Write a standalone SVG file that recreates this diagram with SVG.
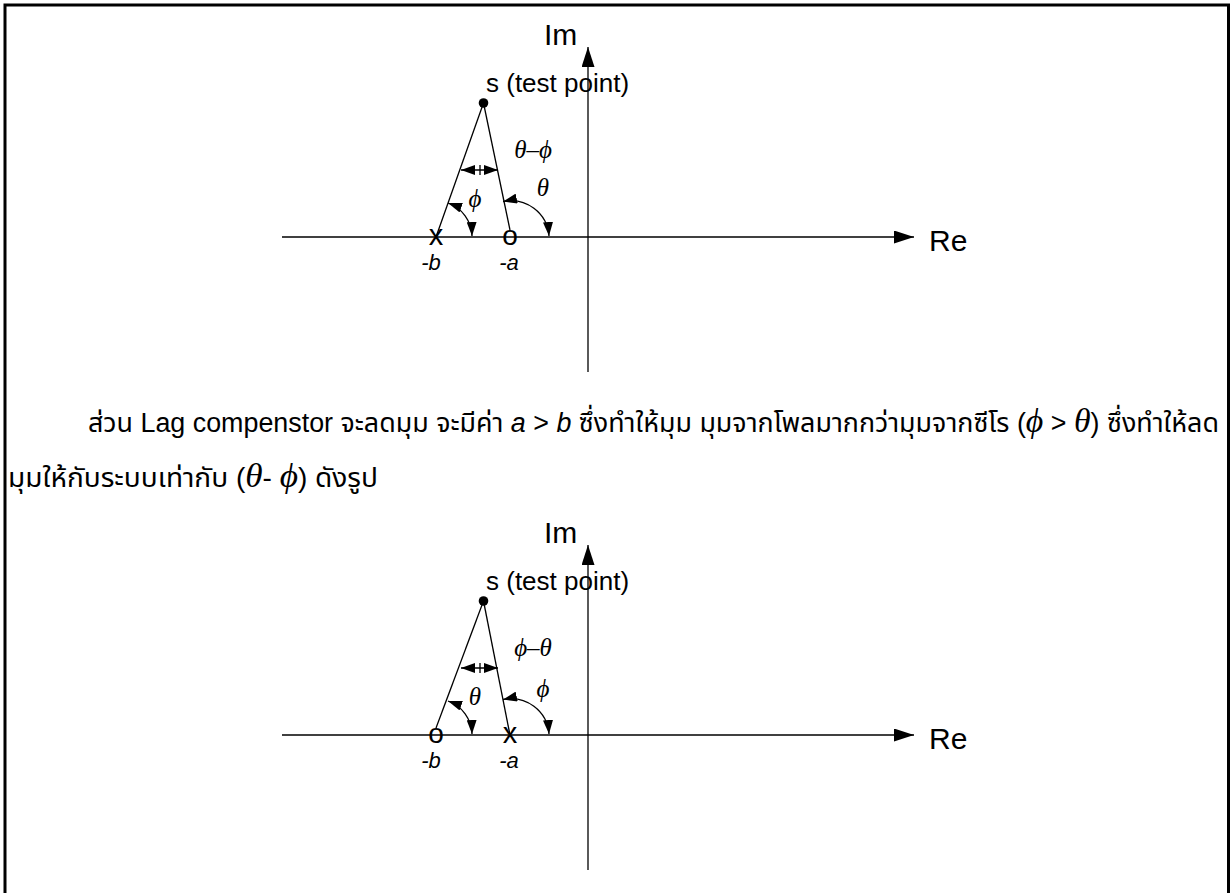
<svg xmlns="http://www.w3.org/2000/svg" width="1230" height="893" viewBox="0 0 1230 893">
<style>
.ln{stroke:#000;stroke-width:1.3;fill:none}
.ax{stroke:#000;stroke-width:1.3;fill:none}
.lab{font-family:'Liberation Sans',Arial,sans-serif;fill:#000}
.gr{font-family:'Liberation Serif','DejaVu Serif',serif;font-style:italic;fill:#000}
.th{font-family:'Liberation Sans','Noto Sans Thai','Noto Sans',sans-serif;font-size:27px;fill:#000}
</style>
<defs>
<marker id="ah" viewBox="0 0 14 10" refX="14" refY="5" markerWidth="14" markerHeight="10" markerUnits="userSpaceOnUse" orient="auto-start-reverse">
<path d="M0,0 L14,5 L0,10 z" fill="#000"/>
</marker>
<marker id="axh" viewBox="0 0 20 13" refX="20" refY="6.5" markerWidth="20" markerHeight="13" markerUnits="userSpaceOnUse" orient="auto">
<path d="M0,0 L20,6.5 L0,13 z" fill="#000"/>
</marker>
</defs>
<rect width="1230" height="893" fill="#fff"/>
<g id="frame"><path d="M5,893 V5 H1228.5 V893" stroke="#000" stroke-width="3" fill="none"/></g>

<!-- Diagram 1 -->
<g id="diagram1">
<g id="connectors1">
<line class="ax" x1="282" y1="237" x2="914" y2="237" marker-end="url(#axh)"/>
<line class="ax" x1="588" y1="372" x2="588" y2="47" marker-end="url(#axh)"/>
<line class="ln" x1="483.5" y1="103" x2="436" y2="237"/>
<line class="ln" x1="483.5" y1="103" x2="510" y2="230"/>
<line class="ln" x1="461" y1="170" x2="498" y2="170" marker-start="url(#ah)" marker-end="url(#ah)"/>
<line class="ln" x1="480" y1="165" x2="480" y2="175"/>
<path class="ln" d="M448,203 A36,36 0 0 1 472,236" marker-start="url(#ah)" marker-end="url(#ah)"/>
<path class="ln" d="M503,201.5 A38,38 0 0 1 549,236" marker-start="url(#ah)" marker-end="url(#ah)"/>
</g>
<g id="s1"><circle cx="483.5" cy="103" r="4.8" fill="#000"/><text class="lab" x="486" y="92" font-size="26">s (test point)</text></g>
<g id="im1"><text class="lab" x="544" y="45" font-size="30">Im</text></g>
<g id="re1"><text class="lab" x="929" y="251" font-size="30">Re</text></g>
<g id="pole1"><text class="lab" x="436" y="245" font-size="29" text-anchor="middle">x</text><text class="lab" x="431" y="270" font-size="22" font-style="italic" text-anchor="middle">-b</text></g>
<g id="zero1"><text class="lab" x="510" y="245" font-size="28" text-anchor="middle">o</text><text class="lab" x="509" y="270" font-size="22" font-style="italic" text-anchor="middle">-a</text></g>
<g id="ang1"><text class="gr" x="533" y="158" font-size="25" text-anchor="middle">θ–ϕ</text>
<text class="gr" x="475" y="207" font-size="25" text-anchor="middle">ϕ</text>
<text class="gr" x="543" y="196" font-size="25" text-anchor="middle">θ</text></g>
</g>

<!-- Text -->
<g id="para">
<text class="th" x="88" y="432" textLength="1131" lengthAdjust="spacingAndGlyphs">ส่วน Lag compenstor จะลดมุม จะมีค่า <tspan font-style="italic">a</tspan> &gt; <tspan font-style="italic">b</tspan> ซึ่งทำให้มุม มุมจากโพลมากกว่ามุมจากซีโร (<tspan class="gr" font-size="34">ϕ</tspan> &gt; <tspan class="gr" font-size="34">θ</tspan>) ซึ่งทำให้ลด</text>
<text class="th" x="8" y="487" textLength="370" lengthAdjust="spacingAndGlyphs">มุมให้กับระบบเท่ากับ (<tspan class="gr" font-size="34">θ</tspan>- <tspan class="gr" font-size="34">ϕ</tspan>) ดังรูป</text>
</g>

<!-- Diagram 2 -->
<g id="diagram2">
<g id="connectors2">
<line class="ax" x1="282" y1="735" x2="914" y2="735" marker-end="url(#axh)"/>
<line class="ax" x1="588" y1="870" x2="588" y2="545" marker-end="url(#axh)"/>
<line class="ln" x1="483.5" y1="601" x2="436" y2="728"/>
<line class="ln" x1="483.5" y1="601" x2="510" y2="735"/>
<line class="ln" x1="461" y1="668" x2="498" y2="668" marker-start="url(#ah)" marker-end="url(#ah)"/>
<line class="ln" x1="480" y1="663" x2="480" y2="673"/>
<path class="ln" d="M448,701 A36,36 0 0 1 472,734" marker-start="url(#ah)" marker-end="url(#ah)"/>
<path class="ln" d="M503,699.5 A38,38 0 0 1 549,734" marker-start="url(#ah)" marker-end="url(#ah)"/>
</g>
<g id="s2"><circle cx="483.5" cy="601" r="4.8" fill="#000"/><text class="lab" x="486" y="590" font-size="26">s (test point)</text></g>
<g id="im2"><text class="lab" x="544" y="543" font-size="30">Im</text></g>
<g id="re2"><text class="lab" x="929" y="749" font-size="30">Re</text></g>
<g id="zero2"><text class="lab" x="436" y="743" font-size="28" text-anchor="middle">o</text><text class="lab" x="431" y="768" font-size="22" font-style="italic" text-anchor="middle">-b</text></g>
<g id="pole2"><text class="lab" x="510" y="743" font-size="29" text-anchor="middle">x</text><text class="lab" x="509" y="768" font-size="22" font-style="italic" text-anchor="middle">-a</text></g>
<g id="ang2"><text class="gr" x="533" y="656" font-size="25" text-anchor="middle">ϕ–θ</text>
<text class="gr" x="475" y="705" font-size="25" text-anchor="middle">θ</text>
<text class="gr" x="543" y="697" font-size="25" text-anchor="middle">ϕ</text></g>
</g>
</svg>
